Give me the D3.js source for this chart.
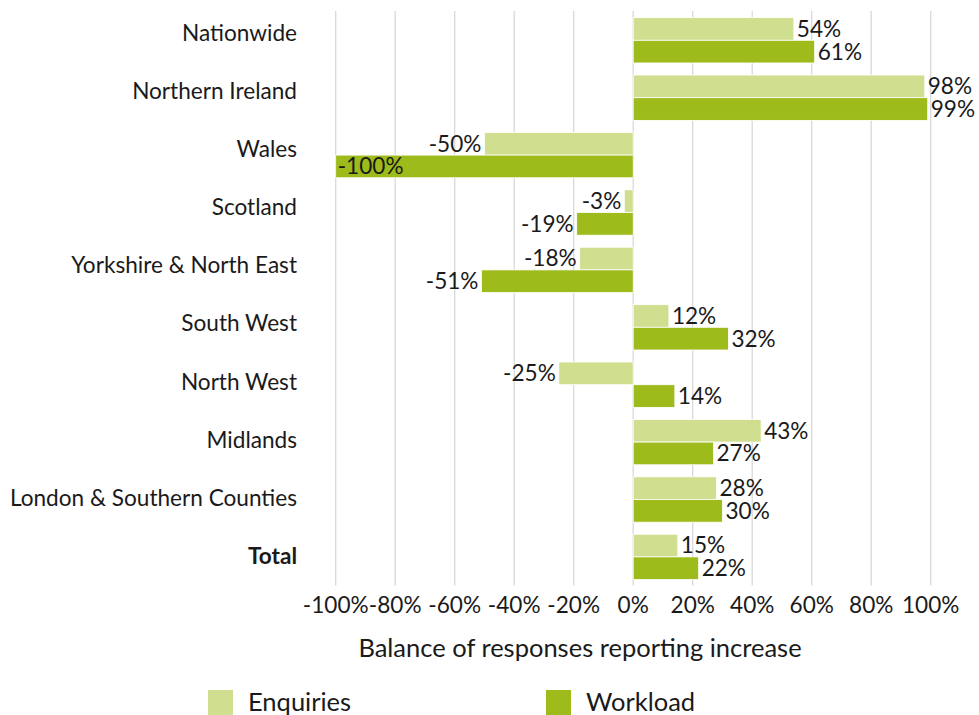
<!DOCTYPE html>
<html>
<head>
<meta charset="utf-8">
<script src="https://cdn.jsdelivr.net/npm/d3@7"></script>
<style>
  body { margin: 0; background: #fff; }
  text { font-family: Lato, "Noto Sans", sans-serif; fill: #1a1a1a; }
</style>
</head>
<body>
<div id="chart"></div>
<script>
let categories = ["Nationwide", "Northern Ireland", "Wales", "Scotland", "Yorkshire & North East",
  "South West", "North West", "Midlands", "London & Southern Counties", "Total"]
let enquiries = [54, 98, -50, -3, -18, 12, -25, 43, 28, 15]
let workload = [61, 99, -100, -19, -51, 32, 14, 27, 30, 22]
let seriesNames = ["Enquiries", "Workload"]
let tickValues = [-100, -80, -60, -40, -20, 0, 20, 40, 60, 80, 100]

let config = {
  width: 979,
  height: 715,
  left: 335.7,
  right: 930.7,
  top: 11.6,
  bottom: 585.6,
  labelTop: 33,
  labelBottom: 556,
  colors: ["#d0df8f", "#9dbb1b"],
  fontSize: 22.6,
  titleSize: 25.5
}

let svg = d3.select("#chart").append("svg")
  .attr("width", config.width)
  .attr("height", config.height)

let x = d3.scaleLinear().domain([-100, 100]).range([config.left, config.right])

let y = d3.scaleBand().domain(categories).range([config.top, config.bottom])
  .paddingInner(0.21).paddingOuter(0.105)

let sub = d3.scaleBand().domain(seriesNames).range([0, y.bandwidth()])

// category labels sit a little apart from the bar centres, like the original
let yLabel = d3.scalePoint().domain(categories).range([config.labelTop, config.labelBottom])

// gridlines
svg.append("g")
  .selectAll("line")
  .data(tickValues)
  .join("line")
  .attr("x1", d => x(d)).attr("x2", d => x(d))
  .attr("y1", config.top - 0.6).attr("y2", config.bottom)
  .attr("stroke", "#d9d9d9")
  .attr("stroke-width", 1.3)

// tick labels
svg.append("g")
  .selectAll("text")
  .data(tickValues)
  .join("text")
  .attr("x", d => x(d))
  .attr("y", 605)
  .attr("dy", "0.35em")
  .attr("text-anchor", "middle")
  .style("font-size", config.fontSize + "px")
  .text(d => d + "%")

// category labels
svg.append("g")
  .selectAll("text")
  .data(categories)
  .join("text")
  .attr("x", 297)
  .attr("y", d => yLabel(d))
  .attr("dy", "0.35em")
  .attr("text-anchor", "end")
  .style("font-size", config.fontSize + "px")
  .style("font-weight", d => d == "Total" ? "bold" : "normal")
  .text(d => d)

let rows = []
categories.forEach(function(c, i) {
  rows.push({ cat: c, series: "Enquiries", value: enquiries[i], color: config.colors[0] })
  rows.push({ cat: c, series: "Workload", value: workload[i], color: config.colors[1] })
})

// bars
svg.append("g")
  .selectAll("rect")
  .data(rows)
  .join("rect")
  .attr("x", d => x(Math.min(0, d.value)))
  .attr("y", d => y(d.cat) + sub(d.series))
  .attr("width", d => Math.abs(x(d.value) - x(0)))
  .attr("height", sub.bandwidth())
  .attr("fill", d => d.color)
  .attr("stroke", "#fff")
  .attr("stroke-width", 0.8)

// value labels
svg.append("g")
  .selectAll("text")
  .data(rows)
  .join("text")
  .attr("x", function(d) {
    if (d.value <= -100) return x(d.value) + 2
    return d.value < 0 ? x(d.value) - 3 : x(d.value) + 3
  })
  .attr("y", d => y(d.cat) + sub(d.series) + sub.bandwidth() / 2)
  .attr("dy", "0.35em")
  .attr("text-anchor", d => (d.value < 0 && d.value > -100) ? "end" : "start")
  .style("font-size", config.fontSize + "px")
  .text(d => d.value + "%")

// axis title
svg.append("text")
  .attr("x", 580)
  .attr("y", 648)
  .attr("dy", "0.35em")
  .attr("text-anchor", "middle")
  .style("font-size", config.titleSize + "px")
  .text("Balance of responses reporting increase")

// legend
let legend = svg.append("g")
  .selectAll("g")
  .data(seriesNames)
  .join("g")
  .attr("transform", (d, i) => "translate(" + (208 + i * 338) + ",690)")

legend.append("rect")
  .attr("width", 25).attr("height", 25)
  .attr("fill", (d, i) => config.colors[i])

legend.append("text")
  .attr("x", 40).attr("y", 12)
  .attr("dy", "0.35em")
  .style("font-size", config.titleSize + "px")
  .text(d => d)
</script>
</body>
</html>
